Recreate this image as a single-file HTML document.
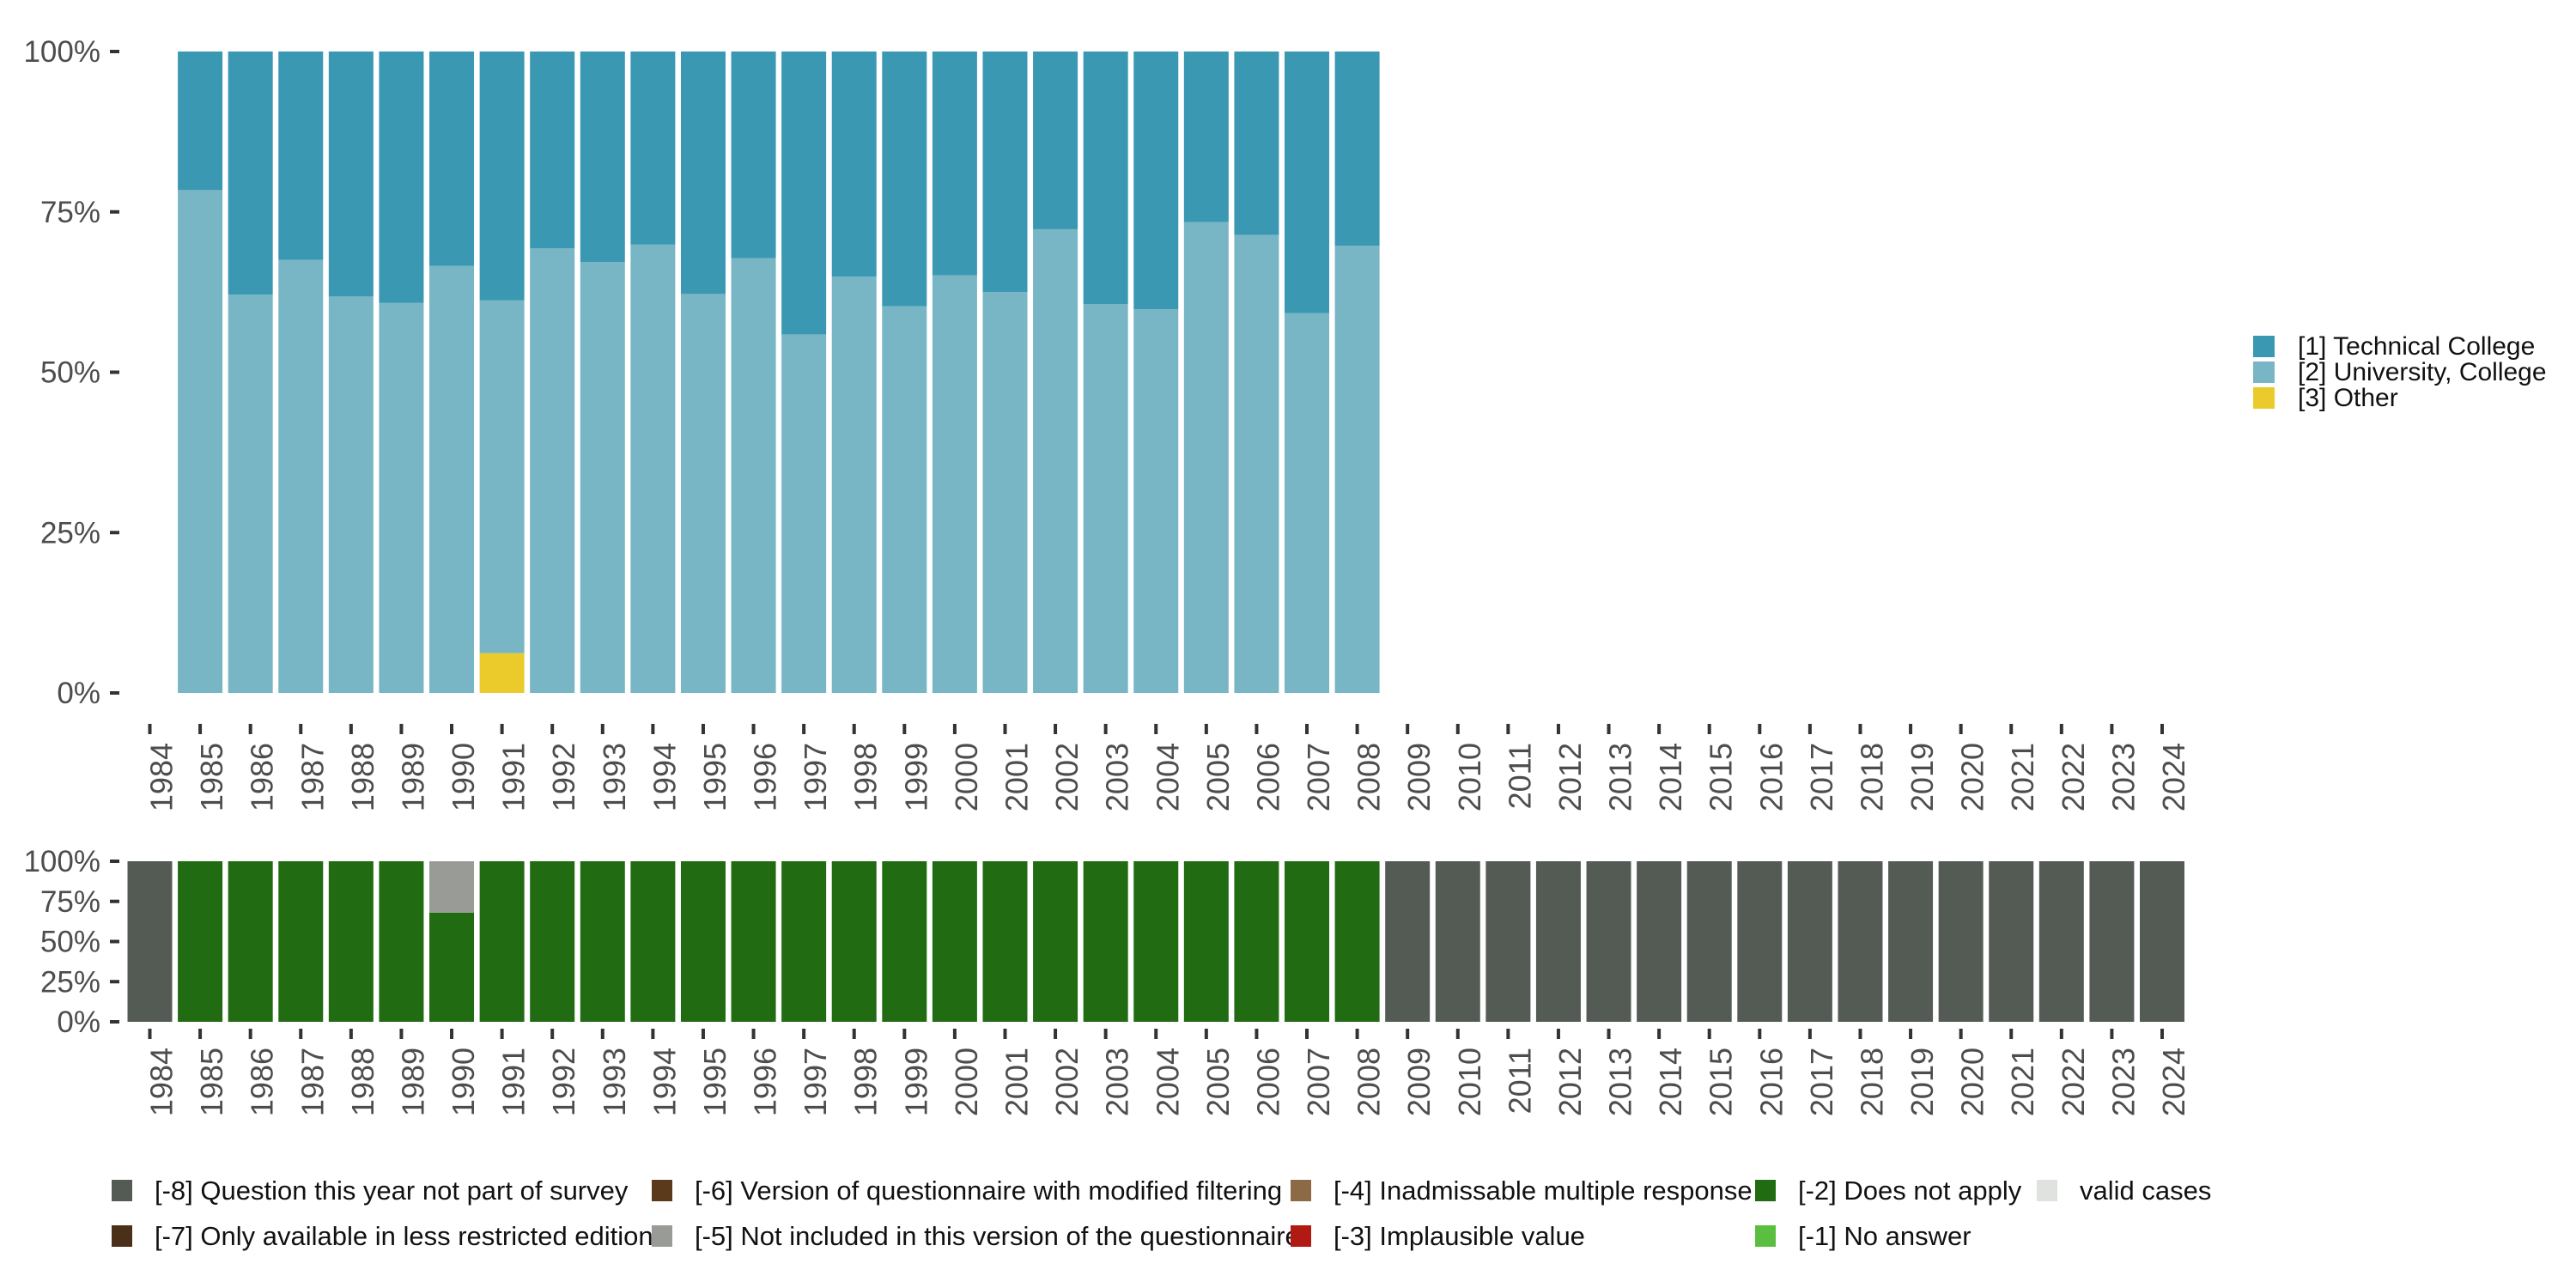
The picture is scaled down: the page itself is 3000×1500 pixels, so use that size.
<!DOCTYPE html>
<html><head><meta charset="utf-8"><style>
html,body{margin:0;padding:0;background:#fff;}
svg{display:block;font-family:"Liberation Sans",sans-serif;}
</style></head><body>
<svg id="chart" width="3000" height="1500" viewBox="0 0 3000 1500" xmlns="http://www.w3.org/2000/svg">
<g id="top"></g>
<g id="bot"></g>
<g id="legR">
 <rect x="2624" y="391" width="25" height="25" fill="#3b98b2"/>
 <text x="2676" y="413" font-size="30" fill="#111">[1] Technical College</text>
 <rect x="2624" y="421" width="25" height="25" fill="#78b6c5"/>
 <text x="2676" y="443" font-size="30" fill="#111">[2] University, College</text>
 <rect x="2624" y="451" width="25" height="25" fill="#ebcb2b"/>
 <text x="2676" y="473" font-size="30" fill="#111">[3] Other</text>
</g>
<g id="legB" font-size="31" fill="#111">
 <rect x="130" y="1374" width="24" height="25" fill="#545b54"/>
 <text x="180" y="1397">[-8] Question this year not part of survey</text>
 <rect x="130" y="1427" width="24" height="25" fill="#4a3018"/>
 <text x="180" y="1450">[-7] Only available in less restricted edition</text>
 <rect x="759" y="1374" width="24" height="25" fill="#5a3a1a"/>
 <text x="809" y="1397">[-6] Version of questionnaire with modified filtering</text>
 <rect x="759" y="1427" width="24" height="25" fill="#999c96"/>
 <text x="809" y="1450">[-5] Not included in this version of the questionnaire</text>
 <rect x="1503" y="1374" width="24" height="25" fill="#8b6a45"/>
 <text x="1553" y="1397">[-4] Inadmissable multiple response</text>
 <rect x="1503" y="1427" width="24" height="25" fill="#b01a12"/>
 <text x="1553" y="1450">[-3] Implausible value</text>
 <rect x="2044" y="1374" width="24" height="25" fill="#216b12"/>
 <text x="2094" y="1397">[-2] Does not apply</text>
 <rect x="2044" y="1427" width="24" height="25" fill="#5abf40"/>
 <text x="2094" y="1450">[-1] No answer</text>
 <rect x="2372" y="1374" width="24" height="25" fill="#dfe2df"/>
 <text x="2422" y="1397">valid cases</text>
</g>
</svg>
<script>
const years = [];
for (let y = 1984; y <= 2024; y++) years.push(String(y));
const topYears = ["1985","1986","1987","1988","1989","1990","1991","1992","1993","1994","1995","1996","1997","1998","1999","2000","2001","2002","2003","2004","2005","2006","2007","2008"];
const otherPct = [0,0,0,0,0,0,6.2,0,0,0,0,0,0,0,0,0,0,0,0,0,0,0,0,0];
const univPct = [78.4,62.1,67.5,61.8,60.8,66.6,55.0,69.3,67.2,69.9,62.2,67.8,55.9,64.9,60.3,65.1,62.5,72.3,60.6,59.8,73.4,71.4,59.2,69.7];
const techPct = univPct.map((u,i)=>100-u-otherPct[i]);
const notSurveyPct = [100,0,0,0,0,0,0,0,0,0,0,0,0,0,0,0,0,0,0,0,0,0,0,0,0,100,100,100,100,100,100,100,100,100,100,100,100,100,100,100,100];
const notIncludedPct = [0,0,0,0,0,0,32,0,0,0,0,0,0,0,0,0,0,0,0,0,0,0,0,0,0,0,0,0,0,0,0,0,0,0,0,0,0,0,0,0,0];
const doesNotApplyPct = notSurveyPct.map((v,i)=>100-v-notIncludedPct[i]);
const yTicks = [0,25,50,75,100];
const yTickLabels = ["0%","25%","50%","75%","100%"];

const NS = "http://www.w3.org/2000/svg";
function mk(parent, tag, attrs, text){
  const e = document.createElementNS(NS, tag);
  for (const k in attrs) e.setAttribute(k, attrs[k]);
  if (text !== undefined) e.textContent = text;
  parent.appendChild(e);
  return e;
}
const x0 = 174.5, step = (2518 - 174.5) / 40, bw = 52;
function xScale(year){ return x0 + (Number(year) - 1984) * step; }

function panel(g, yTop, yBot, tickY1, tickY2, labelY, prefix){
  const yS = v => yBot - (yBot - yTop) * v / 100;
  yTicks.forEach((t,i)=>{
    const tk = mk(g,'rect',{x:128,y:yS(t)-2,width:11,height:4,fill:'#333'});
    
    
    const lb = mk(g,'text',{x:117,y:yS(t)+12,'text-anchor':'end','font-size':35,fill:'#4d4d4d'}, yTickLabels[i]);
    
    
  });
  years.forEach(yr=>{
    const cx = xScale(yr);
    const tk = mk(g,'rect',{x:cx-2,y:tickY1,width:4,height:tickY2-tickY1,fill:'#333'});
    
    
    const lb = mk(g,'text',{x:0,y:0,'text-anchor':'end','font-size':36,fill:'#4d4d4d',transform:`translate(${cx+26},${labelY}) rotate(-90)`}, yr);
    
    
  });
  return yS;
}

const gT = document.getElementById('top');
const yT = panel(gT, 60, 807, 843, 855, 865, 'top');
topYears.forEach((yr,i)=>{
  const x = xScale(yr) - bw/2;
  let base = 0;
  const segs = [[otherPct[i],'#ebcb2b','bar-other'],[univPct[i],'#78b6c5','bar-university'],[techPct[i],'#3b98b2','bar-technical']];
  segs.forEach(s=>{
    if (s[0] <= 0) return;
    const r = mk(gT,'rect',{x:x,y:yT(base+s[0]),width:bw,height:yT(base)-yT(base+s[0]),fill:s[1]});
    
    
    base += s[0];
  });
});

const gB = document.getElementById('bot');
const yB = panel(gB, 1003, 1190, 1198, 1210, 1220, 'bottom');
years.forEach((yr,i)=>{
  const x = xScale(yr) - bw/2;
  let base = 0;
  const segs = [[doesNotApplyPct[i],'#216b12','bar-does-not-apply'],[notIncludedPct[i],'#999c96','bar-not-included'],[notSurveyPct[i],'#545b54','bar-not-in-survey']];
  segs.forEach(s=>{
    if (s[0] <= 0) return;
    const r = mk(gB,'rect',{x:x,y:yB(base+s[0]),width:bw,height:yB(base)-yB(base+s[0]),fill:s[1]});
    
    
    base += s[0];
  });
});
</script>
</body></html>
